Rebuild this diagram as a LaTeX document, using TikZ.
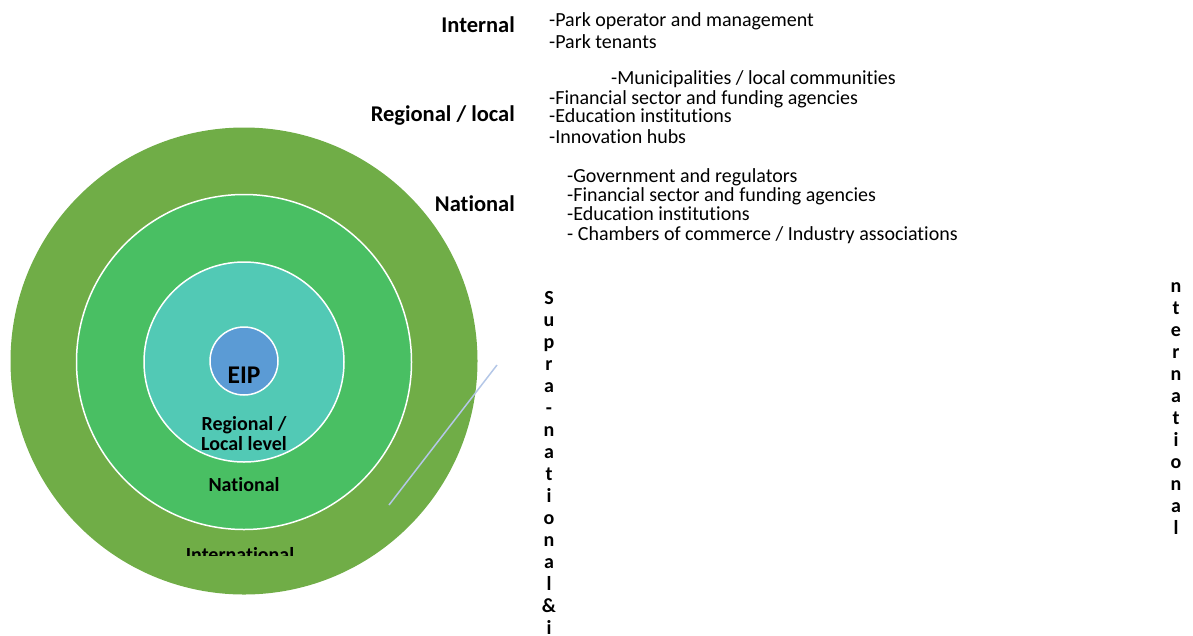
\documentclass[tikz,border=0pt]{standalone}
\usepackage{fontspec}
\setmainfont[Ligatures={NoCommon}]{Carlito}
\usepackage{xcolor}
\usepackage{tikz}
\usetikzlibrary{positioning}
\definecolor{intlgreen}{HTML}{70AD47}
\definecolor{natgreen}{HTML}{49BF63}
\definecolor{regteal}{HTML}{52C9B5}
\definecolor{eipblue}{HTML}{5B9BD5}
\definecolor{leaderline}{HTML}{B4C7E7}
\def\ringsep{22}

\begin{document}
\begin{tikzpicture}[x=1pt,y=-1pt]
    \tikzstyle{ring}=[circle,draw=white,line width=1.5pt,inner sep=0pt]
    \tikzstyle{ringlabel}=[font=\fontsize{20}{20}\selectfont\bfseries,align=center,inner sep=0pt]
    \tikzstyle{level}=[font=\fontsize{22.5}{26}\selectfont\bfseries,anchor=base east,inner sep=0pt]
    \tikzstyle{item}=[font=\fontsize{20}{22}\selectfont,anchor=base west,inner sep=0pt]
    \tikzstyle{letter}=[font=\fontsize{20}{22}\selectfont\bfseries,anchor=base,inner sep=0pt]

    \useasboundingbox (0,0) rectangle (1193,635);

    % Draw the rings from outside in
    \node[ring, fill=intlgreen, draw=none, minimum size=467pt] (intl) at (244,361) {};
    \node[ring, fill=natgreen, minimum size=335pt] (nat) at (244,362) {};
    \node[ring, fill=regteal, minimum size=200pt] (reg) at (244,362) {};
    \node[ring, fill=eipblue, minimum size=68pt] (eip) at (244,361) {};

    % Ring labels
    \node[ringlabel, font=\fontsize{25.5}{28}\selectfont\bfseries, anchor=base] (eiplbl) at (244,383) {EIP};
    \node[ringlabel] (reglbl) at (244,434) {Regional /\\Local level};
    \node[ringlabel, anchor=base] (natlbl) at (244,491) {National};
    \begin{scope}
        \clip (150,530) rectangle (340,555.5);
        \node[ringlabel, anchor=base] (intllbl) at (240,561) {International};
    \end{scope}

    % Leader line
    \coordinate (lead-a) at (497,365);
    \coordinate (lead-b) at (389,505);
    \draw[leaderline, line width=1.5pt] (lead-a) -- (lead-b);

    % Level headings
    \node[level] (hint) at (515,32) {Internal};
    \node[level] (hreg) at (515,121) {Regional / local};
    \node[level] (hnat) at (515,211) {National};

    % Stakeholder lists
    \node[item] (i-1) at (549,26) {-Park operator and management};
    \node[item] (i-2) at (549,48) {-Park tenants};
    \node[item] (r-1) at (611,84) {-Municipalities / local communities};
    \foreach \name / \y / \word in {2/104/Financial sector and funding agencies,3/122/Education institutions,4/143/Innovation hubs}
        \node[item] (r-\name) at (549,\y) {-\word};
    \foreach \name / \y / \word in {1/182/Government and regulators,2/201/Financial sector and funding agencies,3/220/Education institutions,4/240/{ Chambers of commerce / Industry associations}}
        \node[item] (n-\name) at (567,\y) {-\word};

    % Vertical labels
    \foreach \ch [count=\i] in {S,u,p,r,a,-,n,a,t,i,o,n,a,l,\&,i}
        \node[letter] (s-\i) at (549,304+\ringsep*\i-\ringsep) {\ch};
    \foreach \ch [count=\i] in {n,t,e,r,n,a,t,i,o,n,a,l}
        \node[letter] (t-\i) at (1176,292+\ringsep*\i-\ringsep) {\ch};

\end{tikzpicture}
\end{document}
